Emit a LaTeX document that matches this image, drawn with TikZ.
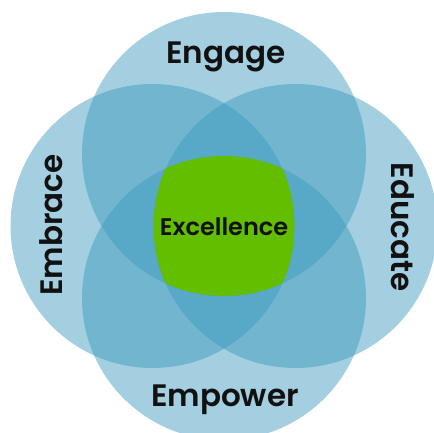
\documentclass[tikz,border=0pt]{standalone}
\usepackage{fontspec}
\setmainfont{Poppins}[BoldFont={Poppins SemiBold}]
\definecolor{blobblue}{RGB}{59,153,189}
\definecolor{coregreen}{RGB}{99,190,0}
\definecolor{ink}{RGB}{17,17,17}
\tikzset{
  blob/.style={circle, minimum size=284pt, inner sep=0pt, fill=blobblue, fill opacity=0.47, draw=none},
  biglabel/.style={font=\bfseries\fontsize{31}{32}\selectfont, text=ink, inner sep=0pt, anchor=base},
  corelabel/.style={font=\bfseries\fontsize{24}{26}\selectfont, text=ink, inner sep=0pt, anchor=base}
}
\begin{document}
\begin{tikzpicture}[x=1pt,y=-1pt]
\useasboundingbox (0,0) rectangle (434,433);
\clip (0,0) rectangle (434,433);
\node[blob] (engage) at (224,154) {};
\node[blob] (embrace) at (152.5,226) {};
\node[blob] (educate) at (295.5,226) {};
\node[blob] (empower) at (224,298) {};
\begin{scope}
  \clip (224,154) circle[radius=142pt];
  \clip (152.5,226) circle[radius=142pt];
  \clip (295.5,226) circle[radius=142pt];
  \fill[coregreen] (224,298) circle[radius=142pt];
\end{scope}
\node[biglabel] (tEngage) at (226,64) {Engage};
\node[biglabel] (tEmpower) at (225,406) {Empower};
\node[biglabel, rotate=90] (tEmbrace) at (62,225) {Embrace};
\node[biglabel, rotate=-90] (tEducate) at (391,227) {Educate};
\node[corelabel] (tCore) at (224,235) {Excellence};
\end{tikzpicture}
\end{document}
